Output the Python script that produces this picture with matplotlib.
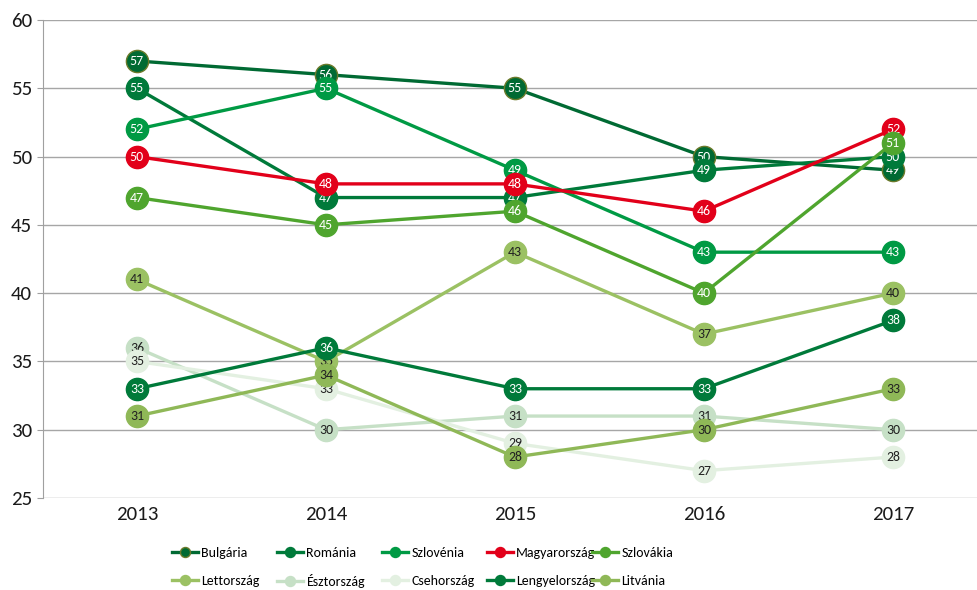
import matplotlib.pyplot as plt

plt.rcParams['font.family'] = ['Carlito', 'DejaVu Sans']

years = ['2013', '2014', '2015', '2016', '2017']
countries = ['Bulgária', 'Románia', 'Szlovénia', 'Magyarország', 'Szlovákia',
             'Lettország', 'Észtország', 'Csehország', 'Lengyelország', 'Litvánia']
bulgaria = [57, 56, 55, 50, 49]
romania = [55, 47, 47, 49, 50]
szlovenia = [52, 55, 49, 43, 43]
magyarorszag = [50, 48, 48, 46, 52]
szlovakia = [47, 45, 46, 40, 51]
lettorszag = [41, 35, 43, 37, 40]
esztorszag = [36, 30, 31, 31, 30]
csehorszag = [35, 33, 29, 27, 28]
lengyelorszag = [33, 36, 33, 33, 38]
litvania = [31, 34, 28, 30, 33]
series = [bulgaria, romania, szlovenia, magyarorszag, szlovakia,
          lettorszag, esztorszag, csehorszag, lengyelorszag, litvania]

colors = ['#006A33', '#007A3A', '#009A44', '#E2001A', '#4FA52E',
          '#9BC163', '#C6E0C6', '#E3F0E1', '#007A3A', '#8FB857']
edges = ['#6B7A2A'] + colors[1:]
label_colors = ['white'] * 5 + ['#222222'] * 3 + ['white', '#222222']

fig = plt.figure(figsize=(9.78, 5.9), dpi=100)
ax = fig.add_axes([43 / 978, 92 / 590, 935 / 978, 478 / 590])

x = list(range(len(years)))
handles = []
for i, (name, vals) in enumerate(zip(countries, series)):
    z = 3 + i * 2
    ln, = ax.plot(x, vals, color=colors[i], linewidth=2.4, marker='o', markersize=16,
                  markerfacecolor=colors[i], markeredgecolor=edges[i], markeredgewidth=1,
                  label=name, zorder=z)
    handles.append(ln)
    for xi, v in zip(x, vals):
        ax.text(xi, v, str(v), ha='center', va='center', fontsize=10,
                color=label_colors[i], zorder=z + 1)

ax.set_xlim(-0.497, 4.45)
ax.set_ylim(25, 60)
ax.set_yticks(range(25, 61, 5))
ax.set_xticks(x)
ax.set_xticklabels(years)
ax.tick_params(axis='y', labelsize=15, length=4, color='#A0A0A0', pad=4, labelcolor='#1A1A1A')
ax.tick_params(axis='x', labelsize=15, length=0, pad=6, labelcolor='#1A1A1A')
ax.grid(axis='y', color='#A6A6A6', linewidth=1)
ax.set_axisbelow(True)
for s in ['top', 'right', 'bottom']:
    ax.spines[s].set_visible(False)
ax.spines['left'].set_color('#A0A0A0')

# legend: 5 evenly spaced columns, filled row by row
col_x = [172, 277, 382, 487, 592]
row_y = [553, 581]
for i, h in enumerate(handles):
    fig.legend([h], [h.get_label()], loc='center left',
               bbox_to_anchor=(col_x[i % 5] / 978, 1 - row_y[i // 5] / 590), frameon=False,
               borderaxespad=0, borderpad=0, handlelength=1.9, handletextpad=0.2,
               markerscale=0.45, fontsize=10)

fig.savefig('out.png', dpi=100)
